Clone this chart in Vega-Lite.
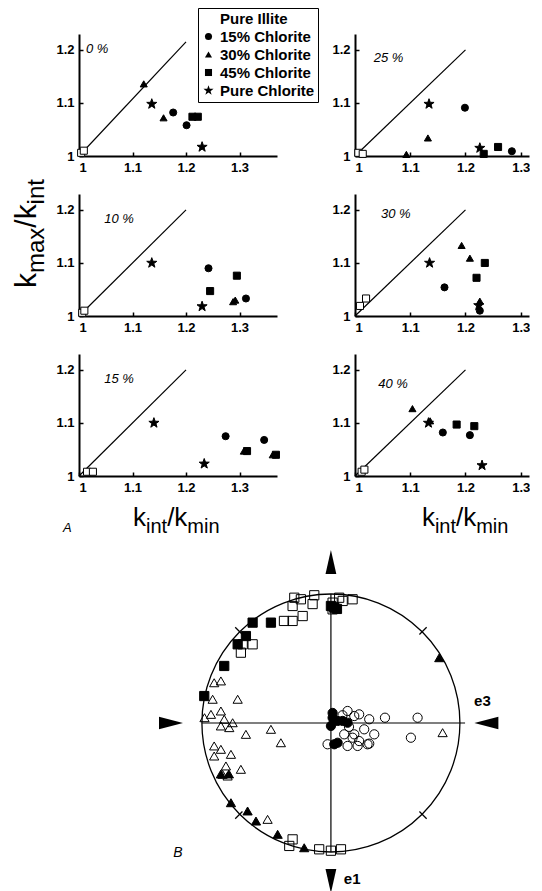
{
"$schema":"https://vega.github.io/schema/vega-lite/v6.json",
"background":"white",
"padding":{"left":11,"top":7,"right":0,"bottom":0},
"datasets":{
"pts":[
{"panel":"0 %","sample":"Pure Illite","x":1.004,"y":1.006},
{"panel":"0 %","sample":"Pure Illite","x":1.009,"y":1.01},
{"panel":"0 %","sample":"30% Chlorite","x":1.121,"y":1.136},
{"panel":"0 %","sample":"30% Chlorite","x":1.158,"y":1.072},
{"panel":"0 %","sample":"Pure Chlorite","x":1.136,"y":1.098},
{"panel":"0 %","sample":"Pure Chlorite","x":1.23,"y":1.017},
{"panel":"0 %","sample":"15% Chlorite","x":1.176,"y":1.082},
{"panel":"0 %","sample":"15% Chlorite","x":1.201,"y":1.058},
{"panel":"0 %","sample":"45% Chlorite","x":1.212,"y":1.074},
{"panel":"0 %","sample":"45% Chlorite","x":1.222,"y":1.074},
{"panel":"25 %","sample":"Pure Illite","x":1.006,"y":1.006},
{"panel":"25 %","sample":"Pure Illite","x":1.014,"y":1.004},
{"panel":"25 %","sample":"30% Chlorite","x":1.093,"y":1.003},
{"panel":"25 %","sample":"30% Chlorite","x":1.132,"y":1.034},
{"panel":"25 %","sample":"Pure Chlorite","x":1.134,"y":1.098},
{"panel":"25 %","sample":"Pure Chlorite","x":1.226,"y":1.015},
{"panel":"25 %","sample":"15% Chlorite","x":1.199,"y":1.091},
{"panel":"25 %","sample":"15% Chlorite","x":1.284,"y":1.009},
{"panel":"25 %","sample":"45% Chlorite","x":1.233,"y":1.004},
{"panel":"25 %","sample":"45% Chlorite","x":1.259,"y":1.017},
{"panel":"10 %","sample":"Pure Illite","x":1.006,"y":1.006},
{"panel":"10 %","sample":"Pure Illite","x":1.01,"y":1.01},
{"panel":"10 %","sample":"Pure Chlorite","x":1.136,"y":1.1},
{"panel":"10 %","sample":"Pure Chlorite","x":1.23,"y":1.018},
{"panel":"10 %","sample":"15% Chlorite","x":1.242,"y":1.09},
{"panel":"10 %","sample":"15% Chlorite","x":1.312,"y":1.033},
{"panel":"10 %","sample":"45% Chlorite","x":1.245,"y":1.047},
{"panel":"10 %","sample":"45% Chlorite","x":1.295,"y":1.076},
{"panel":"10 %","sample":"30% Chlorite","x":1.292,"y":1.03},
{"panel":"10 %","sample":"30% Chlorite","x":1.288,"y":1.027},
{"panel":"30 %","sample":"Pure Illite","x":1.02,"y":1.033},
{"panel":"30 %","sample":"Pure Illite","x":1.009,"y":1.019},
{"panel":"30 %","sample":"Pure Chlorite","x":1.135,"y":1.1},
{"panel":"30 %","sample":"Pure Chlorite","x":1.224,"y":1.02},
{"panel":"30 %","sample":"30% Chlorite","x":1.193,"y":1.133},
{"panel":"30 %","sample":"30% Chlorite","x":1.208,"y":1.109},
{"panel":"30 %","sample":"30% Chlorite","x":1.226,"y":1.028},
{"panel":"30 %","sample":"45% Chlorite","x":1.235,"y":1.1},
{"panel":"30 %","sample":"45% Chlorite","x":1.22,"y":1.072},
{"panel":"30 %","sample":"15% Chlorite","x":1.162,"y":1.054},
{"panel":"30 %","sample":"15% Chlorite","x":1.226,"y":1.01},
{"panel":"15 %","sample":"Pure Illite","x":1.015,"y":1.008},
{"panel":"15 %","sample":"Pure Illite","x":1.026,"y":1.008},
{"panel":"15 %","sample":"Pure Chlorite","x":1.14,"y":1.1},
{"panel":"15 %","sample":"Pure Chlorite","x":1.234,"y":1.023},
{"panel":"15 %","sample":"15% Chlorite","x":1.274,"y":1.075},
{"panel":"15 %","sample":"15% Chlorite","x":1.346,"y":1.068},
{"panel":"15 %","sample":"30% Chlorite","x":1.308,"y":1.047},
{"panel":"15 %","sample":"30% Chlorite","x":1.362,"y":1.04},
{"panel":"15 %","sample":"45% Chlorite","x":1.314,"y":1.047},
{"panel":"15 %","sample":"45% Chlorite","x":1.368,"y":1.04},
{"panel":"40 %","sample":"Pure Illite","x":1.012,"y":1.008},
{"panel":"40 %","sample":"Pure Illite","x":1.017,"y":1.012},
{"panel":"40 %","sample":"30% Chlorite","x":1.104,"y":1.127},
{"panel":"40 %","sample":"30% Chlorite","x":1.136,"y":1.104},
{"panel":"40 %","sample":"Pure Chlorite","x":1.133,"y":1.1},
{"panel":"40 %","sample":"Pure Chlorite","x":1.23,"y":1.02},
{"panel":"40 %","sample":"15% Chlorite","x":1.159,"y":1.082},
{"panel":"40 %","sample":"15% Chlorite","x":1.208,"y":1.077},
{"panel":"40 %","sample":"45% Chlorite","x":1.184,"y":1.097},
{"panel":"40 %","sample":"45% Chlorite","x":1.216,"y":1.094}
],
"diag":[
{"panel":"0 %","x":1,"y":1},{"panel":"0 %","x":1.2,"y":1.215},
{"panel":"25 %","x":1,"y":1},{"panel":"25 %","x":1.2,"y":1.2},
{"panel":"10 %","x":1,"y":1},{"panel":"10 %","x":1.2,"y":1.2},
{"panel":"30 %","x":1,"y":1},{"panel":"30 %","x":1.2,"y":1.2},
{"panel":"15 %","x":1,"y":1},{"panel":"15 %","x":1.2,"y":1.2},
{"panel":"40 %","x":1,"y":1},{"panel":"40 %","x":1.2,"y":1.2}
],
"labels":[
{"panel":"0 %","x":1.013,"y":1.202,"text":"0 %"},
{"panel":"25 %","x":1.034,"y":1.185,"text":"25 %"},
{"panel":"10 %","x":1.047,"y":1.183,"text":"10 %"},
{"panel":"30 %","x":1.047,"y":1.192,"text":"30 %"},
{"panel":"15 %","x":1.047,"y":1.183,"text":"15 %"},
{"panel":"40 %","x":1.042,"y":1.173,"text":"40 %"},
{"panel":"15 %","x":0.97,"y":0.902,"text":"A"}
],
"titles":[
{"panel":"10 %","part":"main","text":"k","x":0.9196,"y":1.0528},
{"panel":"10 %","part":"sub","text":"max","x":0.9346,"y":1.0811},
{"panel":"10 %","part":"main","text":"/k","x":0.9196,"y":1.1665},
{"panel":"10 %","part":"sub","text":"int","x":0.9346,"y":1.2104},
{"panel":"15 %","part":"main","text":"k","x":1.1009,"y":0.9057},
{"panel":"15 %","part":"sub","text":"int","x":1.1252,"y":0.8925},
{"panel":"15 %","part":"main","text":"/k","x":1.1647,"y":0.9057},
{"panel":"15 %","part":"sub","text":"min","x":1.2024,"y":0.8925},
{"panel":"40 %","part":"main","text":"k","x":1.1212,"y":0.9057},
{"panel":"40 %","part":"sub","text":"int","x":1.1447,"y":0.8925},
{"panel":"40 %","part":"main","text":"/k","x":1.1828,"y":0.9057},
{"panel":"40 %","part":"sub","text":"min","x":1.2193,"y":0.8925}
],
"stereo":[
{"ax":"kmax","mineral":"illite","u":-0.297,"v":0.907},{"ax":"kmax","mineral":"illite","u":-0.219,"v":0.829},{"ax":"kmax","mineral":"illite","u":-0.142,"v":0.922},{"ax":"kmax","mineral":"illite","u":-0.284,"v":0.971},{"ax":"kmax","mineral":"illite","u":-0.233,"v":0.959},{"ax":"kmax","mineral":"illite","u":-0.129,"v":0.99},{"ax":"kmax","mineral":"illite","u":0.013,"v":0.933},{"ax":"kmax","mineral":"illite","u":0.064,"v":0.971},{"ax":"kmax","mineral":"illite","u":0.091,"v":0.946},{"ax":"kmax","mineral":"illite","u":0.168,"v":0.959},{"ax":"kmax","mineral":"illite","u":0.013,"v":0.881},{"ax":"kmax","mineral":"illite","u":-0.297,"v":0.791},{"ax":"kmax","mineral":"illite","u":-0.364,"v":0.791},{"ax":"kmax","mineral":"illite","u":-0.684,"v":0.61},{"ax":"kmax","mineral":"illite","u":-0.607,"v":0.61},{"ax":"kmax","mineral":"illite","u":-0.698,"v":0.545},{"ax":"kmax","mineral":"illite","u":-0.297,"v":-0.902},{"ax":"kmax","mineral":"illite","u":-0.323,"v":-0.953},{"ax":"kmax","mineral":"illite","u":-0.091,"v":-0.979},{"ax":"kmax","mineral":"illite","u":0.078,"v":-0.979},{"ax":"kmax","mineral":"illite","u":0.0,"v":-0.99},
{"ax":"kmax","mineral":"chlorite","u":-0.607,"v":0.778},{"ax":"kmax","mineral":"chlorite","u":-0.465,"v":0.778},{"ax":"kmax","mineral":"chlorite","u":-0.659,"v":0.674},{"ax":"kmax","mineral":"chlorite","u":-0.723,"v":0.61},{"ax":"kmax","mineral":"chlorite","u":-0.827,"v":0.442},{"ax":"kmax","mineral":"chlorite","u":-0.982,"v":0.209},{"ax":"kmax","mineral":"chlorite","u":0.0,"v":0.907},{"ax":"kmax","mineral":"chlorite","u":0.026,"v":0.894},{"ax":"kmax","mineral":"chlorite","u":0.047,"v":0.884},
{"ax":"kint","mineral":"illite","u":-0.905,"v":0.312},{"ax":"kint","mineral":"illite","u":-0.853,"v":0.326},{"ax":"kint","mineral":"illite","u":-0.917,"v":0.184},{"ax":"kint","mineral":"illite","u":-0.723,"v":0.184},{"ax":"kint","mineral":"illite","u":-0.93,"v":0.067},{"ax":"kint","mineral":"illite","u":-0.853,"v":0.093},{"ax":"kint","mineral":"illite","u":-0.98,"v":0.041},{"ax":"kint","mineral":"illite","u":-0.827,"v":0.029},{"ax":"kint","mineral":"illite","u":-0.762,"v":0.002},{"ax":"kint","mineral":"illite","u":-0.853,"v":-0.023},{"ax":"kint","mineral":"illite","u":-0.788,"v":-0.036},{"ax":"kint","mineral":"illite","u":-0.659,"v":-0.088},{"ax":"kint","mineral":"illite","u":-0.465,"v":-0.049},{"ax":"kint","mineral":"illite","u":-0.388,"v":-0.153},{"ax":"kint","mineral":"illite","u":-0.905,"v":-0.178},{"ax":"kint","mineral":"illite","u":-0.853,"v":-0.204},{"ax":"kint","mineral":"illite","u":-0.905,"v":-0.256},{"ax":"kint","mineral":"illite","u":-0.775,"v":-0.243},{"ax":"kint","mineral":"illite","u":-0.814,"v":-0.333},{"ax":"kint","mineral":"illite","u":-0.698,"v":-0.359},{"ax":"kint","mineral":"illite","u":-0.84,"v":-0.398},{"ax":"kint","mineral":"illite","u":-0.801,"v":-0.411},{"ax":"kint","mineral":"illite","u":-0.491,"v":-0.747},{"ax":"kint","mineral":"illite","u":0.866,"v":-0.075},
{"ax":"kint","mineral":"chlorite","u":-0.853,"v":-0.395},{"ax":"kint","mineral":"chlorite","u":-0.791,"v":-0.395},{"ax":"kint","mineral":"chlorite","u":-0.775,"v":-0.618},{"ax":"kint","mineral":"chlorite","u":-0.646,"v":-0.682},{"ax":"kint","mineral":"chlorite","u":-0.581,"v":-0.76},{"ax":"kint","mineral":"chlorite","u":-0.413,"v":-0.863},{"ax":"kint","mineral":"chlorite","u":-0.207,"v":-0.967},{"ax":"kint","mineral":"chlorite","u":0.84,"v":0.506},
{"ax":"kmin","mineral":"illite","u":0.129,"v":0.093},{"ax":"kmin","mineral":"illite","u":0.181,"v":0.054},{"ax":"kmin","mineral":"illite","u":0.219,"v":0.067},{"ax":"kmin","mineral":"illite","u":0.297,"v":0.029},{"ax":"kmin","mineral":"illite","u":0.419,"v":0.041},{"ax":"kmin","mineral":"illite","u":0.672,"v":0.041},{"ax":"kmin","mineral":"illite","u":0.62,"v":-0.114},{"ax":"kmin","mineral":"illite","u":0.336,"v":-0.088},{"ax":"kmin","mineral":"illite","u":0.258,"v":-0.049},{"ax":"kmin","mineral":"illite","u":0.181,"v":-0.088},{"ax":"kmin","mineral":"illite","u":0.103,"v":-0.088},{"ax":"kmin","mineral":"illite","u":0.219,"v":-0.14},{"ax":"kmin","mineral":"illite","u":0.297,"v":-0.16},{"ax":"kmin","mineral":"illite","u":-0.026,"v":-0.165},{"ax":"kmin","mineral":"illite","u":0.129,"v":-0.178},{"ax":"kmin","mineral":"illite","u":0.207,"v":-0.178},{"ax":"kmin","mineral":"illite","u":0.284,"v":-0.165},{"ax":"kmin","mineral":"illite","u":0.168,"v":-0.114},{"ax":"kmin","mineral":"illite","u":0.09,"v":0.06},{"ax":"kmin","mineral":"illite","u":0.14,"v":-0.03},
{"ax":"kmin","mineral":"chlorite","u":0.013,"v":0.041},{"ax":"kmin","mineral":"chlorite","u":0.052,"v":0.016},{"ax":"kmin","mineral":"chlorite","u":0.091,"v":0.016},{"ax":"kmin","mineral":"chlorite","u":0.129,"v":0.002},{"ax":"kmin","mineral":"chlorite","u":0.026,"v":-0.165},{"ax":"kmin","mineral":"chlorite","u":0.052,"v":-0.153},{"ax":"kmin","mineral":"chlorite","u":0.013,"v":0.078},{"ax":"kmin","mineral":"chlorite","u":0.0,"v":-0.023}
],
"net":[{"u":0,"v":0}],
"netlines":[
{"u":-1,"v":0,"u2":1.04,"v2":0},
{"u":0,"v":-1,"u2":0,"v2":1},
{"u":0.686,"v":0.686,"u2":0.742,"v2":0.742},
{"u":-0.686,"v":0.686,"u2":-0.742,"v2":0.742},
{"u":-0.686,"v":-0.686,"u2":-0.742,"v2":-0.742},
{"u":0.686,"v":-0.686,"u2":0.742,"v2":-0.742}
],
"arrows":[
{"dir":"up","u":0,"v":1.248},
{"dir":"down","u":0,"v":-1.225},
{"dir":"right","u":-1.24,"v":0},
{"dir":"left","u":1.205,"v":0}
],
"nettext":[
{"kind":"axis","text":"e3","u":1.11,"v":0.171},
{"kind":"axis","text":"e1","u":0.1,"v":-1.209},
{"kind":"panel","text":"B","u":-1.186,"v":-1.008}
]
},
"columns":2,
"align":{"row":"each","column":"all"},
"bounds":"flush",
"spacing":{"row":38,"column":78},
"resolve":{"scale":{"shape":"independent","fill":"independent"}},
"concat":[
{"width":198,"height":122,"layer":[
 {"data":{"name":"diag"},"transform":[{"filter":"datum.panel === '0 %'"}],"mark":{"type":"line","color":"black","strokeWidth":1.2},
  "encoding":{"x":{"field":"x","type":"quantitative","scale":{"domain":[1,1.37],"nice":false,"zero":false},"axis":{"values":[1,1.1,1.2,1.3],"format":"~g","title":null}},
              "y":{"field":"y","type":"quantitative","scale":{"domain":[1,1.23],"nice":false,"zero":false},"axis":{"values":[1,1.1,1.2],"format":"~g","title":null}}}},
 {"data":{"name":"pts"},"transform":[{"filter":"datum.panel === '0 %'"}],"mark":{"type":"point","filled":true,"stroke":"black","strokeWidth":1,"size":50,"opacity":1},
  "encoding":{"x":{"field":"x","type":"quantitative"},"y":{"field":"y","type":"quantitative"},
   "shape":{"field":"sample","type":"nominal","scale":{"domain":["Pure Illite","15% Chlorite","30% Chlorite","45% Chlorite","Pure Chlorite"],"range":["square","circle","triangle-up","square","M0,-1.5L0.353,-0.486L1.427,-0.464L0.57,0.186L0.882,1.214L0,0.6L-0.882,1.214L-0.57,0.186L-1.427,-0.464L-0.353,-0.486Z"]},"legend":{"orient":"none","legendX":119,"legendY":-26,"title":null}},
   "fill":{"field":"sample","type":"nominal","scale":{"domain":["Pure Illite","15% Chlorite","30% Chlorite","45% Chlorite","Pure Chlorite"],"range":["white","black","black","black","black"]},"legend":{"orient":"none","legendX":119,"legendY":-26,"title":null}}}},
 {"data":{"name":"labels"},"transform":[{"filter":"datum.panel === '0 %'"}],"mark":{"type":"text","align":"left","baseline":"middle","fontStyle":"italic","fontSize":13,"font":"Liberation Sans","color":"black"},
  "encoding":{"x":{"field":"x","type":"quantitative"},"y":{"field":"y","type":"quantitative"},"text":{"field":"text"}}}
]},
{"width":174,"height":122,"layer":[
 {"data":{"name":"diag"},"transform":[{"filter":"datum.panel === '25 %'"}],"mark":{"type":"line","color":"black","strokeWidth":1.2},
  "encoding":{"x":{"field":"x","type":"quantitative","scale":{"domain":[1,1.315],"nice":false,"zero":false},"axis":{"values":[1,1.1,1.2,1.3],"format":"~g","title":null}},
              "y":{"field":"y","type":"quantitative","scale":{"domain":[1,1.23],"nice":false,"zero":false},"axis":{"values":[1,1.1,1.2],"format":"~g","title":null}}}},
 {"data":{"name":"pts"},"transform":[{"filter":"datum.panel === '25 %'"}],"mark":{"type":"point","filled":true,"stroke":"black","strokeWidth":1,"size":50,"opacity":1},
  "encoding":{"x":{"field":"x","type":"quantitative"},"y":{"field":"y","type":"quantitative"},
   "shape":{"field":"sample","type":"nominal","scale":{"domain":["Pure Illite","15% Chlorite","30% Chlorite","45% Chlorite","Pure Chlorite"],"range":["square","circle","triangle-up","square","M0,-1.5L0.353,-0.486L1.427,-0.464L0.57,0.186L0.882,1.214L0,0.6L-0.882,1.214L-0.57,0.186L-1.427,-0.464L-0.353,-0.486Z"]},"legend":null},
   "fill":{"field":"sample","type":"nominal","scale":{"domain":["Pure Illite","15% Chlorite","30% Chlorite","45% Chlorite","Pure Chlorite"],"range":["white","black","black","black","black"]},"legend":null}}},
 {"data":{"name":"labels"},"transform":[{"filter":"datum.panel === '25 %'"}],"mark":{"type":"text","align":"left","baseline":"middle","fontStyle":"italic","fontSize":13,"font":"Liberation Sans","color":"black"},
  "encoding":{"x":{"field":"x","type":"quantitative"},"y":{"field":"y","type":"quantitative"},"text":{"field":"text"}}}
]},
{"width":198,"height":122,"layer":[
 {"data":{"name":"diag"},"transform":[{"filter":"datum.panel === '10 %'"}],"mark":{"type":"line","color":"black","strokeWidth":1.2},
  "encoding":{"x":{"field":"x","type":"quantitative","scale":{"domain":[1,1.37],"nice":false,"zero":false},"axis":{"values":[1,1.1,1.2,1.3],"format":"~g","title":null}},
              "y":{"field":"y","type":"quantitative","scale":{"domain":[1,1.23],"nice":false,"zero":false},"axis":{"values":[1,1.1,1.2],"format":"~g","title":null}}}},
 {"data":{"name":"pts"},"transform":[{"filter":"datum.panel === '10 %'"}],"mark":{"type":"point","filled":true,"stroke":"black","strokeWidth":1,"size":50,"opacity":1},
  "encoding":{"x":{"field":"x","type":"quantitative"},"y":{"field":"y","type":"quantitative"},
   "shape":{"field":"sample","type":"nominal","scale":{"domain":["Pure Illite","15% Chlorite","30% Chlorite","45% Chlorite","Pure Chlorite"],"range":["square","circle","triangle-up","square","M0,-1.5L0.353,-0.486L1.427,-0.464L0.57,0.186L0.882,1.214L0,0.6L-0.882,1.214L-0.57,0.186L-1.427,-0.464L-0.353,-0.486Z"]},"legend":null},
   "fill":{"field":"sample","type":"nominal","scale":{"domain":["Pure Illite","15% Chlorite","30% Chlorite","45% Chlorite","Pure Chlorite"],"range":["white","black","black","black","black"]},"legend":null}}},
 {"data":{"name":"labels"},"transform":[{"filter":"datum.panel === '10 %'"}],"mark":{"type":"text","align":"left","baseline":"middle","fontStyle":"italic","fontSize":13,"font":"Liberation Sans","color":"black"},
  "encoding":{"x":{"field":"x","type":"quantitative"},"y":{"field":"y","type":"quantitative"},"text":{"field":"text"}}},
 {"data":{"name":"titles"},"transform":[{"filter":"datum.panel === '10 %' && datum.part === 'main'"}],"mark":{"type":"text","align":"left","baseline":"alphabetic","angle":270,"fontSize":30,"font":"Liberation Sans","color":"black"},
  "encoding":{"x":{"field":"x","type":"quantitative"},"y":{"field":"y","type":"quantitative"},"text":{"field":"text"}}},
 {"data":{"name":"titles"},"transform":[{"filter":"datum.panel === '10 %' && datum.part === 'sub'"}],"mark":{"type":"text","align":"left","baseline":"alphabetic","angle":270,"fontSize":24,"font":"Liberation Sans","color":"black"},
  "encoding":{"x":{"field":"x","type":"quantitative"},"y":{"field":"y","type":"quantitative"},"text":{"field":"text"}}}
]},
{"width":174,"height":122,"layer":[
 {"data":{"name":"diag"},"transform":[{"filter":"datum.panel === '30 %'"}],"mark":{"type":"line","color":"black","strokeWidth":1.2},
  "encoding":{"x":{"field":"x","type":"quantitative","scale":{"domain":[1,1.315],"nice":false,"zero":false},"axis":{"values":[1,1.1,1.2,1.3],"format":"~g","title":null}},
              "y":{"field":"y","type":"quantitative","scale":{"domain":[1,1.23],"nice":false,"zero":false},"axis":{"values":[1,1.1,1.2],"format":"~g","title":null}}}},
 {"data":{"name":"pts"},"transform":[{"filter":"datum.panel === '30 %'"}],"mark":{"type":"point","filled":true,"stroke":"black","strokeWidth":1,"size":50,"opacity":1},
  "encoding":{"x":{"field":"x","type":"quantitative"},"y":{"field":"y","type":"quantitative"},
   "shape":{"field":"sample","type":"nominal","scale":{"domain":["Pure Illite","15% Chlorite","30% Chlorite","45% Chlorite","Pure Chlorite"],"range":["square","circle","triangle-up","square","M0,-1.5L0.353,-0.486L1.427,-0.464L0.57,0.186L0.882,1.214L0,0.6L-0.882,1.214L-0.57,0.186L-1.427,-0.464L-0.353,-0.486Z"]},"legend":null},
   "fill":{"field":"sample","type":"nominal","scale":{"domain":["Pure Illite","15% Chlorite","30% Chlorite","45% Chlorite","Pure Chlorite"],"range":["white","black","black","black","black"]},"legend":null}}},
 {"data":{"name":"labels"},"transform":[{"filter":"datum.panel === '30 %'"}],"mark":{"type":"text","align":"left","baseline":"middle","fontStyle":"italic","fontSize":13,"font":"Liberation Sans","color":"black"},
  "encoding":{"x":{"field":"x","type":"quantitative"},"y":{"field":"y","type":"quantitative"},"text":{"field":"text"}}}
]},
{"width":198,"height":122,"layer":[
 {"data":{"name":"diag"},"transform":[{"filter":"datum.panel === '15 %'"}],"mark":{"type":"line","color":"black","strokeWidth":1.2},
  "encoding":{"x":{"field":"x","type":"quantitative","scale":{"domain":[1,1.37],"nice":false,"zero":false},"axis":{"values":[1,1.1,1.2,1.3],"format":"~g","title":null}},
              "y":{"field":"y","type":"quantitative","scale":{"domain":[1,1.23],"nice":false,"zero":false},"axis":{"values":[1,1.1,1.2],"format":"~g","title":null}}}},
 {"data":{"name":"pts"},"transform":[{"filter":"datum.panel === '15 %'"}],"mark":{"type":"point","filled":true,"stroke":"black","strokeWidth":1,"size":50,"opacity":1},
  "encoding":{"x":{"field":"x","type":"quantitative"},"y":{"field":"y","type":"quantitative"},
   "shape":{"field":"sample","type":"nominal","scale":{"domain":["Pure Illite","15% Chlorite","30% Chlorite","45% Chlorite","Pure Chlorite"],"range":["square","circle","triangle-up","square","M0,-1.5L0.353,-0.486L1.427,-0.464L0.57,0.186L0.882,1.214L0,0.6L-0.882,1.214L-0.57,0.186L-1.427,-0.464L-0.353,-0.486Z"]},"legend":null},
   "fill":{"field":"sample","type":"nominal","scale":{"domain":["Pure Illite","15% Chlorite","30% Chlorite","45% Chlorite","Pure Chlorite"],"range":["white","black","black","black","black"]},"legend":null}}},
 {"data":{"name":"labels"},"transform":[{"filter":"datum.panel === '15 %'"}],"mark":{"type":"text","align":"left","baseline":"middle","fontStyle":"italic","fontSize":13,"font":"Liberation Sans","color":"black"},
  "encoding":{"x":{"field":"x","type":"quantitative"},"y":{"field":"y","type":"quantitative"},"text":{"field":"text"}}},
 {"data":{"name":"titles"},"transform":[{"filter":"datum.panel === '15 %' && datum.part === 'main'"}],"mark":{"type":"text","align":"left","baseline":"alphabetic","fontSize":26,"font":"Liberation Sans","color":"black"},
  "encoding":{"x":{"field":"x","type":"quantitative"},"y":{"field":"y","type":"quantitative"},"text":{"field":"text"}}},
 {"data":{"name":"titles"},"transform":[{"filter":"datum.panel === '15 %' && datum.part === 'sub'"}],"mark":{"type":"text","align":"left","baseline":"alphabetic","fontSize":20,"font":"Liberation Sans","color":"black"},
  "encoding":{"x":{"field":"x","type":"quantitative"},"y":{"field":"y","type":"quantitative"},"text":{"field":"text"}}}
]},
{"width":174,"height":122,"layer":[
 {"data":{"name":"diag"},"transform":[{"filter":"datum.panel === '40 %'"}],"mark":{"type":"line","color":"black","strokeWidth":1.2},
  "encoding":{"x":{"field":"x","type":"quantitative","scale":{"domain":[1,1.315],"nice":false,"zero":false},"axis":{"values":[1,1.1,1.2,1.3],"format":"~g","title":null}},
              "y":{"field":"y","type":"quantitative","scale":{"domain":[1,1.23],"nice":false,"zero":false},"axis":{"values":[1,1.1,1.2],"format":"~g","title":null}}}},
 {"data":{"name":"pts"},"transform":[{"filter":"datum.panel === '40 %'"}],"mark":{"type":"point","filled":true,"stroke":"black","strokeWidth":1,"size":50,"opacity":1},
  "encoding":{"x":{"field":"x","type":"quantitative"},"y":{"field":"y","type":"quantitative"},
   "shape":{"field":"sample","type":"nominal","scale":{"domain":["Pure Illite","15% Chlorite","30% Chlorite","45% Chlorite","Pure Chlorite"],"range":["square","circle","triangle-up","square","M0,-1.5L0.353,-0.486L1.427,-0.464L0.57,0.186L0.882,1.214L0,0.6L-0.882,1.214L-0.57,0.186L-1.427,-0.464L-0.353,-0.486Z"]},"legend":null},
   "fill":{"field":"sample","type":"nominal","scale":{"domain":["Pure Illite","15% Chlorite","30% Chlorite","45% Chlorite","Pure Chlorite"],"range":["white","black","black","black","black"]},"legend":null}}},
 {"data":{"name":"labels"},"transform":[{"filter":"datum.panel === '40 %'"}],"mark":{"type":"text","align":"left","baseline":"middle","fontStyle":"italic","fontSize":13,"font":"Liberation Sans","color":"black"},
  "encoding":{"x":{"field":"x","type":"quantitative"},"y":{"field":"y","type":"quantitative"},"text":{"field":"text"}}},
 {"data":{"name":"titles"},"transform":[{"filter":"datum.panel === '40 %' && datum.part === 'main'"}],"mark":{"type":"text","align":"left","baseline":"alphabetic","fontSize":26,"font":"Liberation Sans","color":"black"},
  "encoding":{"x":{"field":"x","type":"quantitative"},"y":{"field":"y","type":"quantitative"},"text":{"field":"text"}}},
 {"data":{"name":"titles"},"transform":[{"filter":"datum.panel === '40 %' && datum.part === 'sub'"}],"mark":{"type":"text","align":"left","baseline":"alphabetic","fontSize":20,"font":"Liberation Sans","color":"black"},
  "encoding":{"x":{"field":"x","type":"quantitative"},"y":{"field":"y","type":"quantitative"},"text":{"field":"text"}}}
]},
{"width":198,"height":378,
 "resolve":{"scale":{"shape":"independent","fill":"independent"}},
 "layer":[
 {"data":{"name":"net"},"mark":{"type":"point","shape":"circle","size":66564,"filled":false,"stroke":"black","strokeWidth":1.3,"opacity":1},
  "encoding":{"x":{"field":"u","type":"quantitative","scale":{"domain":[-1.953,-0.418],"nice":false,"zero":false},"axis":null},
              "y":{"field":"v","type":"quantitative","scale":{"domain":[-1.31,1.62],"nice":false,"zero":false},"axis":null}}},
 {"data":{"name":"netlines"},"mark":{"type":"rule","color":"black","strokeWidth":1.2},
  "encoding":{"x":{"field":"u","type":"quantitative"},"y":{"field":"v","type":"quantitative"},"x2":{"field":"u2"},"y2":{"field":"v2"}}},
 {"data":{"name":"stereo"},"mark":{"type":"point","filled":true,"stroke":"black","strokeWidth":1,"size":85,"opacity":1},
  "encoding":{"x":{"field":"u","type":"quantitative"},"y":{"field":"v","type":"quantitative"},
   "shape":{"field":"ax","type":"nominal","scale":{"domain":["kmax","kint","kmin"],"range":["square","triangle-up","circle"]},"legend":null},
   "fill":{"field":"mineral","type":"nominal","scale":{"domain":["illite","chlorite"],"range":["transparent","black"]},"legend":null}}},
 {"data":{"name":"arrows"},"mark":{"type":"point","filled":true,"fill":"black","stroke":null,"size":576,"opacity":1},
  "encoding":{"x":{"field":"u","type":"quantitative"},"y":{"field":"v","type":"quantitative"},
   "shape":{"field":"dir","type":"nominal","scale":{"domain":["up","down","right","left"],"range":["M0,-1L0.45,1L-0.45,1Z","M0,1L0.45,-1L-0.45,-1Z","M1,0L-1,0.52L-1,-0.52Z","M-1,0L1,0.52L1,-0.52Z"]},"legend":null}}},
 {"data":{"name":"nettext"},"transform":[{"filter":"datum.kind === 'axis'"}],"mark":{"type":"text","align":"left","baseline":"middle","fontSize":15,"fontWeight":"bold","font":"Liberation Sans","color":"black"},
  "encoding":{"x":{"field":"u","type":"quantitative"},"y":{"field":"v","type":"quantitative"},"text":{"field":"text"}}},
 {"data":{"name":"nettext"},"transform":[{"filter":"datum.kind === 'panel'"}],"mark":{"type":"text","align":"center","baseline":"middle","fontSize":14,"fontStyle":"italic","font":"Liberation Sans","color":"black"},
  "encoding":{"x":{"field":"u","type":"quantitative"},"y":{"field":"v","type":"quantitative"},"text":{"field":"text"}}}
]}
],
"config":{
 "view":{"stroke":null},
 "font":"Liberation Sans",
 "axis":{"grid":false,"domainColor":"black","domainWidth":2,"tickColor":"black","tickSize":-4,"tickWidth":1.5,"labelFont":"Liberation Sans","labelFontSize":13,"labelFontWeight":"bold","labelColor":"black","labelPadding":9},
 "legend":{"padding":3,"rowPadding":2,"labelFont":"Liberation Sans","labelFontSize":15,"labelFontWeight":"bold","labelColor":"black","symbolSize":50,"labelOffset":4,"strokeColor":"black","fillColor":"white","symbolStrokeColor":"black","symbolStrokeWidth":1}
}
}
